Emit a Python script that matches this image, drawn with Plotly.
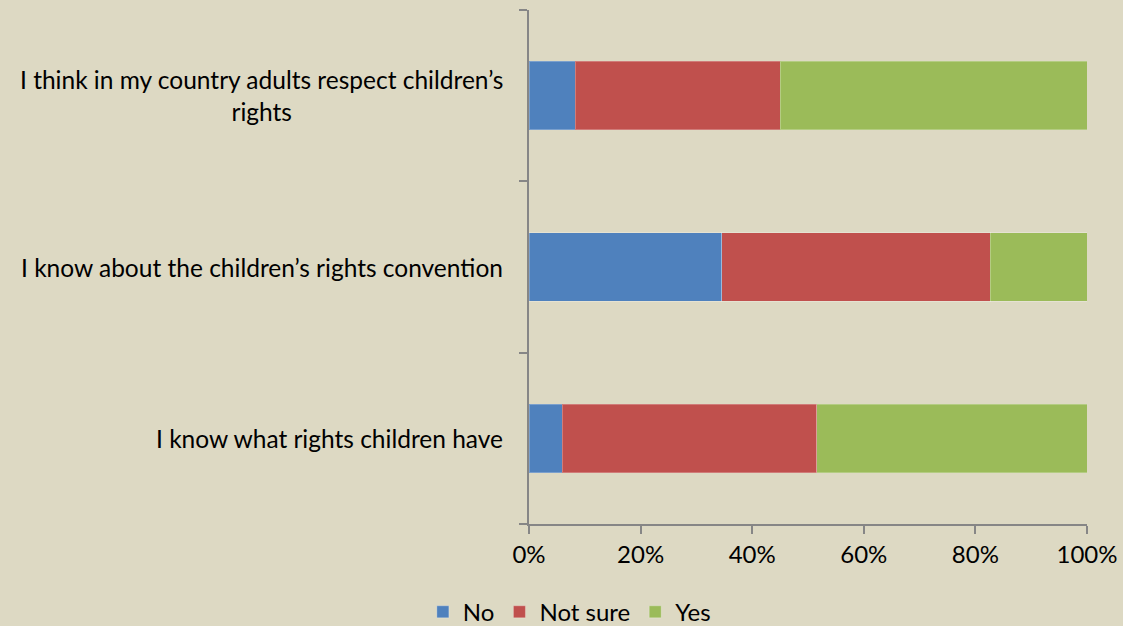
import plotly.graph_objects as go

# Survey statements (bottom to top as drawn on the category axis)
statements = [
    "I know what rights children have",
    "I know about the children\u2019s rights convention",
    "I think in my country adults respect children\u2019s rights",
]
statement_labels = [
    "I know what rights children have",
    "I know about the children\u2019s rights convention",
    "I think in my country adults respect children\u2019s<br>rights",
]

# Share of answers, percent
no_pct = [6.0, 34.5, 8.3]
not_sure_pct = [45.6, 48.2, 36.7]
yes_pct = [48.4, 17.3, 55.0]

x_tick_vals = [0, 20, 40, 60, 80, 100]
x_tick_text = ["0%", "20%", "40%", "60%", "80%", "100%"]

series = [
    ("No", no_pct, "#4F81BD"),
    ("Not sure", not_sure_pct, "#C0504D"),
    ("Yes", yes_pct, "#9BBB59"),
]

bg = "#DDD9C3"
axis_grey = "#868686"
font_family = "Lato, 'Open Sans', sans-serif"

fig = go.Figure()
for name, values, color in series:
    fig.add_trace(go.Bar(
        y=statements,
        x=values,
        name=name,
        orientation="h",
        marker=dict(color=color, line=dict(color="rgba(255,255,255,0.25)", width=1)),
    ))

# Category labels drawn as centred text blocks left of the axis
for cat, label in zip(statements, statement_labels):
    fig.add_annotation(
        x=0, xref="paper", xanchor="right", xshift=-24,
        y=cat, yref="y", yanchor="middle",
        text=label, align="center", showarrow=False,
        font=dict(family=font_family, size=24.5, color="#000000"),
    )

fig.update_layout(
    width=1123,
    height=626,
    barmode="stack",
    bargap=0.6,
    paper_bgcolor=bg,
    plot_bgcolor=bg,
    margin=dict(l=529, r=36, t=10, b=102, autoexpand=False),
    font=dict(family=font_family, size=24, color="#000000"),
    showlegend=True,
    legend=dict(
        orientation="h",
        xref="container",
        yref="container",
        x=0.507,
        xanchor="center",
        y=0.022,
        yanchor="middle",
        font=dict(size=24),
        itemwidth=30,
        traceorder="normal",
        bgcolor="rgba(0,0,0,0)",
    ),
    xaxis=dict(
        range=[0, 100],
        tickvals=x_tick_vals,
        ticktext=x_tick_text,
        automargin=False,
        showgrid=False,
        zeroline=False,
        showline=True,
        linecolor=axis_grey,
        linewidth=2,
        ticks="outside",
        ticklen=8,
        tickwidth=2,
        tickcolor=axis_grey,
        fixedrange=True,
    ),
    yaxis=dict(
        categoryorder="array",
        categoryarray=statements,
        tickvals=statements,
        showticklabels=False,
        automargin=False,
        tickson="boundaries",
        showgrid=False,
        zeroline=False,
        showline=True,
        linecolor=axis_grey,
        linewidth=2,
        ticks="outside",
        ticklen=8,
        tickwidth=2,
        tickcolor=axis_grey,
        fixedrange=True,
    ),
)

fig.write_html("out.html")
